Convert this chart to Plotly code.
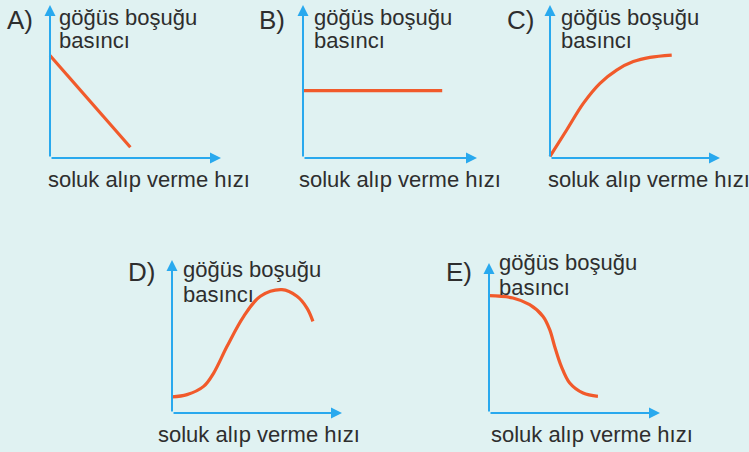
import plotly.graph_objects as go

# ---- data (normalized: x = fraction of x-axis length, y = fraction of y-axis length)
A_x = [0.0, 0.47]
A_y = [0.67, 0.07]

B_x = [0.0, 0.80]
B_y = [0.44, 0.44]

C_x = [0.0, 0.098, 0.196, 0.294, 0.392, 0.49, 0.588, 0.716]
C_y = [0.01, 0.183, 0.357, 0.488, 0.575, 0.63, 0.658, 0.673]

D_x = [0.0, 0.088, 0.186, 0.245, 0.324, 0.422, 0.52, 0.647, 0.735, 0.794, 0.829]
D_y = [0.105, 0.12, 0.174, 0.261, 0.436, 0.632, 0.763, 0.806, 0.763, 0.686, 0.599]

E_x = [0.0, 0.14, 0.238, 0.316, 0.355, 0.384, 0.423, 0.472, 0.55, 0.637]
E_y = [0.782, 0.767, 0.722, 0.644, 0.556, 0.444, 0.311, 0.2, 0.133, 0.111]

panel_letters = ["A)", "B)", "C)", "D)", "E)"]
y_title_1 = "göğüs boşuğu"
y_title_2 = "basıncı"
x_title = "soluk alıp verme hızı"

series = [(A_x, A_y, "linear"), (B_x, B_y, "linear"), (C_x, C_y, "spline"),
          (D_x, D_y, "spline"), (E_x, E_y, "spline")]

# ---- layout geometry (pixels)
W, H = 749, 452
BG = "#e0f2f2"
AXC = "#29a9ee"
LINEC = "#f15a2b"
TXT = "#2e2e2e"
FONT = "Liberation Sans, Arial, sans-serif"

# origin x, origin y, arrow tip x, arrow top y, letter x, title x, xlabel x
panels = [
    (50, 158, 221, 5, 5, 57, 46),
    (303, 158, 477, 5, 257, 312, 297),
    (550, 158, 720, 5, 505, 559, 546),
    (172, 413, 342, 260, 126, 181, 156),
    (489, 413, 660, 263, 444, 497, 489),
]
title_offsets = [(18, 41), (18, 41), (18, 41), (269, 294), (262, 287)]
letter_y = [20, 20, 20, 272, 272]
xlabel_y = [180, 180, 180, 434, 434]

fig = go.Figure()
PAD = 6
annotations = []
for i, ((ox, oy, tx, ty, lx, ttx, xlx), (xs, ys, shp)) in enumerate(zip(panels, series)):
    n = "" if i == 0 else str(i + 1)
    xa, ya = "x" + n, "y" + n
    wpx = tx - ox
    hpx = oy - ty
    fig.update_layout(**{
        "xaxis" + n: dict(domain=[(ox - PAD) / W, tx / W], range=[-PAD / wpx, 1],
                          visible=False, anchor=ya, fixedrange=True),
        "yaxis" + n: dict(domain=[1 - oy / H - PAD / H, 1 - ty / H], range=[-PAD / hpx, 1],
                          visible=False, anchor=xa, fixedrange=True),
    })
    fig.add_trace(go.Scatter(x=xs, y=ys, xaxis=xa, yaxis=ya, mode="lines",
                             line=dict(color=LINEC, width=3.2, shape=shp, smoothing=1.0),
                             hoverinfo="skip", showlegend=False))
    # axis arrows
    for (x1, y1) in [(1, 0), (0, 1)]:
        annotations.append(dict(x=x1, y=y1, ax=0, ay=0, xref=xa, yref=ya, axref=xa, ayref=ya,
                                text="", showarrow=True, arrowhead=2, arrowsize=1.1,
                                arrowwidth=2, arrowcolor=AXC, standoff=0, startstandoff=0))
    t1, t2 = title_offsets[i]
    annotations.append(dict(x=lx / W, y=1 - letter_y[i] / H, xref="paper", yref="paper",
                            text=panel_letters[i], showarrow=False, xanchor="left", yanchor="middle",
                            font=dict(size=26, color=TXT, family=FONT)))
    annotations.append(dict(x=ttx / W, y=1 - t1 / H, xref="paper", yref="paper",
                            text=y_title_1, showarrow=False, xanchor="left", yanchor="middle",
                            font=dict(size=22, color=TXT, family=FONT)))
    annotations.append(dict(x=ttx / W, y=1 - t2 / H, xref="paper", yref="paper",
                            text=y_title_2, showarrow=False, xanchor="left", yanchor="middle",
                            font=dict(size=22, color=TXT, family=FONT)))
    annotations.append(dict(x=xlx / W, y=1 - xlabel_y[i] / H, xref="paper", yref="paper",
                            text=x_title, showarrow=False, xanchor="left", yanchor="middle",
                            font=dict(size=22, color=TXT, family=FONT)))

fig.update_layout(width=W, height=H, margin=dict(l=0, r=0, t=0, b=0),
                  paper_bgcolor=BG, plot_bgcolor=BG, annotations=annotations,
                  showlegend=False)
fig.write_html("out.html", config={"displayModeBar": False},
               post_script="document.body.style.margin='0';document.body.style.overflow='hidden';document.body.style.background='" + BG + "';")
